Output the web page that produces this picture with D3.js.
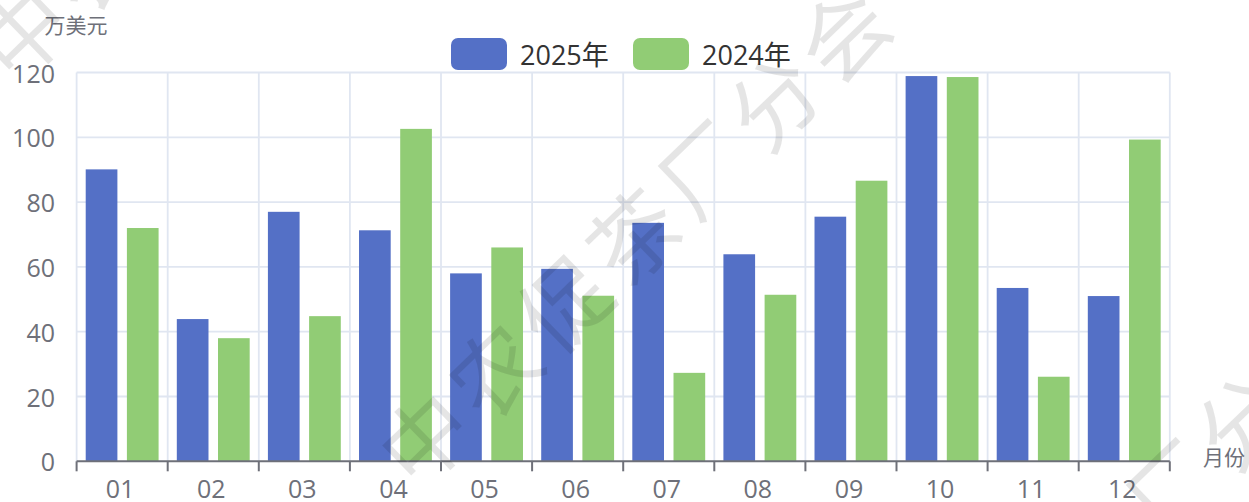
<!DOCTYPE html>
<html><head><meta charset="utf-8">
<script src="https://cdn.jsdelivr.net/npm/d3@7"></script>
<style>
html,body{margin:0;padding:0;background:#fff;}
svg{display:block;}
text{font-family:"Open Sans","Noto Sans CJK SC",sans-serif;}
</style></head>
<body><svg id="c" width="1249" height="502"></svg>
<script>
const months = ["01","02","03","04","05","06","07","08","09","10","11","12"];
const seriesNames = ["2025年","2024年"];
const values2025 = [90.1, 43.9, 77.0, 71.3, 58.0, 59.4, 73.6, 63.9, 75.5, 118.9, 53.5, 51.0];
const values2024 = [72.0, 38.0, 44.8, 102.6, 66.0, 51.1, 27.3, 51.4, 86.6, 118.6, 26.1, 99.3];
const yTicks = [0, 20, 40, 60, 80, 100, 120];
const colors = ["#5470c6", "#91cc75"];
const yAxisName = "万美元";
const xAxisName = "月份";
const watermark = "中农促茶厂分会";

const svg = d3.select("#c");
const L = 76.6, R = 1169.8, T = 72.5, B = 461.3;

const x = d3.scaleBand().domain(months).range([L, R]).padding(0);
const bw = x.bandwidth();
const barW = bw * 0.8 / 2.3;
const x1 = d3.scaleBand().domain(seriesNames).range([0, bw])
  .paddingInner(0.3 / 1.3).paddingOuter(0.1 * bw / (1.3 * barW));
const y = d3.scaleLinear().domain([0, 120]).range([B, T]);

// grid
const g = svg.append("g");
g.selectAll(".hg").data(yTicks.filter(d => d > 0)).join("line")
  .attr("x1", L).attr("x2", R).attr("y1", d => y(d)).attr("y2", d => y(d))
  .attr("stroke", "#e0e6f1").attr("stroke-width", 1.8);
const bounds = months.map(m => x(m)).concat([x(months[months.length-1]) + bw]);
g.selectAll(".vg").data(bounds).join("line")
  .attr("x1", d => d).attr("x2", d => d).attr("y1", T).attr("y2", B)
  .attr("stroke", "#e0e6f1").attr("stroke-width", 1.8);

// bars
const data = months.map((m, i) => ({m, vals: [values2025[i], values2024[i]]}));
const grp = svg.append("g").selectAll("g").data(data).join("g")
  .attr("transform", d => `translate(${x(d.m)},0)`);
grp.selectAll("rect").data(d => d.vals.map((v, k) => ({v, k})))
  .join("rect")
  .attr("x", d => x1(seriesNames[d.k]))
  .attr("width", x1.bandwidth())
  .attr("y", d => y(d.v))
  .attr("height", d => y(0) - y(d.v))
  .attr("fill", d => colors[d.k]);

// y axis labels
svg.append("g").selectAll("text").data(yTicks).join("text")
  .attr("x", 55).attr("y", d => y(d)).attr("text-anchor", "end")
  .attr("dominant-baseline", "central")
  .attr("font-size", 25).attr("fill", "#6e7079").text(d => d);

// x axis
const xa = svg.append("g");
xa.append("line").attr("x1", L).attr("x2", R).attr("y1", B).attr("y2", B)
  .attr("stroke", "#6e7079").attr("stroke-width", 2);
xa.selectAll(".tk").data(bounds).join("line")
  .attr("x1", d => d).attr("x2", d => d).attr("y1", B).attr("y2", B + 10)
  .attr("stroke", "#6e7079").attr("stroke-width", 2);
xa.selectAll("text").data(months).join("text")
  .attr("x", d => x(d) + bw / 2 - 2).attr("y", 488)
  .attr("text-anchor", "middle").attr("dominant-baseline", "central")
  .attr("font-size", 25).attr("fill", "#6e7079").text(d => d);

// axis names
svg.append("text").attr("x", 76).attr("y", 25).attr("text-anchor", "middle")
  .attr("dominant-baseline", "central").attr("font-size", 21).attr("fill", "#6e7079")
  .text(yAxisName);
svg.append("text").attr("x", 1203).attr("y", 457).attr("text-anchor", "start")
  .attr("dominant-baseline", "central").attr("font-size", 21).attr("fill", "#6e7079")
  .text(xAxisName);

// legend
const legX = [451, 633];
const lg = svg.append("g").selectAll("g").data(seriesNames).join("g")
  .attr("transform", (d, i) => `translate(${legX[i]},38)`);
lg.append("rect").attr("width", 56).attr("height", 32).attr("rx", 7)
  .attr("fill", (d, i) => colors[i]);
lg.append("text").attr("x", 69).attr("y", 16).attr("dominant-baseline", "central")
  .attr("font-size", 27).attr("fill", "#333").text(d => d);

// watermark
const wm = [[637, 233], [235, -173], [1105, 552]];
svg.append("g").selectAll("text").data(wm).join("text")
  .attr("transform", d => `translate(${d[0]},${d[1]}) rotate(-44)`)
  .attr("text-anchor", "middle").attr("dominant-baseline", "central")
  .attr("font-size", 88).attr("letter-spacing", 9)
  .attr("font-family", "Noto Sans CJK SC")
  .attr("fill", "rgba(0,0,0,0.1)").text(watermark);
</script></body></html>
